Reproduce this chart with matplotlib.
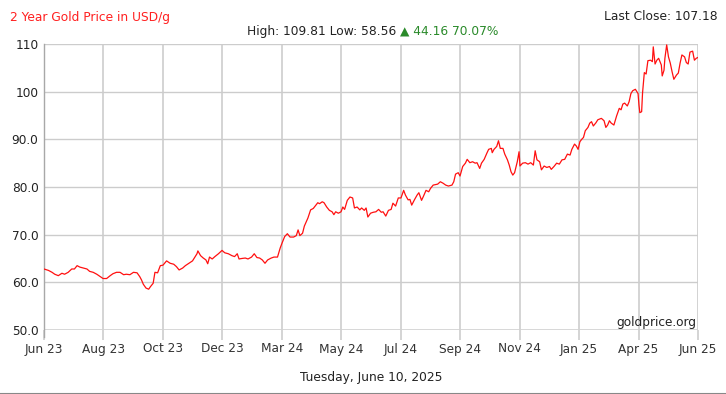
import numpy as np
import matplotlib
matplotlib.use("Agg")
import matplotlib.pyplot as plt
from matplotlib.lines import Line2D

# days since Jun 10 2023 and price in USD/g
days_a = [0, 5, 9, 12, 16, 20, 23, 27, 31, 34, 37, 40, 44, 48, 51, 55, 59, 63, 66, 70,
          74, 77, 81, 85, 89, 92, 96, 100, 104, 107, 109, 111, 114, 117, 119, 122, 124,
          127, 130, 133, 137, 141, 145, 148, 151]
price_a = [62.8, 62.5, 62.1, 61.7, 61.4, 61.9, 61.7, 62.1, 62.8, 62.8, 63.5, 63.2, 63.0,
           62.8, 62.3, 62.1, 61.7, 61.2, 60.8, 60.8, 61.4, 61.8, 62.1, 62.1, 61.6, 61.7,
           61.6, 62.1, 62.0, 61.2, 60.5, 59.6, 58.8, 58.56, 59.1, 59.8, 62.1, 62.0, 63.5,
           63.6, 64.5, 64.0, 63.8, 63.3, 62.6]

days_b = [155, 158, 162, 166, 169, 171, 172, 175, 178, 181, 183, 185, 188, 191, 195, 199,
          202, 206, 210, 213, 216, 218, 221, 225, 228, 232, 235, 238, 241, 244, 247, 250,
          254, 257, 261, 264, 266, 269, 272, 275, 279, 282, 284, 286, 289, 291]
price_b = [63.0, 63.5, 64.0, 64.5, 65.4, 66.0, 66.6, 65.6, 65.1, 64.7, 63.9, 65.3, 64.9,
           65.4, 66.0, 66.7, 66.2, 66.0, 65.6, 65.4, 66.0, 64.9, 65.0, 65.1, 64.9, 65.3,
           66.0, 65.2, 65.1, 64.7, 64.0, 64.7, 65.1, 65.3, 65.3, 67.2, 68.2, 69.6, 70.2,
           69.5, 69.5, 69.8, 71.0, 69.8, 70.3, 71.8]

days_c = [295, 298, 301, 304, 306, 308, 311, 313, 316, 319, 322, 324, 326, 329, 332, 334,
          336, 339, 342, 345, 347, 350, 353, 355, 358, 360, 362, 365, 368, 371, 374, 377,
          379, 382, 385, 388, 390, 393, 396, 399, 402, 404, 407, 409, 411, 414, 417, 419,
          422, 424, 427, 430, 432, 435]
price_c = [73.5, 75.2, 75.5, 76.2, 76.7, 76.5, 76.9, 76.7, 75.8, 75.1, 74.8, 74.2, 74.8,
           74.5, 74.8, 75.8, 75.3, 77.2, 77.9, 77.7, 75.6, 75.8, 75.2, 75.6, 75.1, 75.6,
           73.7, 74.5, 74.7, 74.8, 75.3, 74.7, 74.8, 73.9, 75.1, 75.3, 76.6, 76.0, 77.7,
           77.7, 79.3, 78.3, 77.3, 77.4, 76.2, 77.3, 78.3, 78.8, 77.2, 78.0, 79.3, 79.0,
           79.7, 80.4]

days_d = [440, 443, 446, 449, 452, 456, 458, 460, 463, 465, 468, 471, 473, 476, 479, 482,
          484, 487, 489, 492, 495, 497, 500, 501, 503, 506, 508, 510, 513, 515, 518, 520,
          522, 524, 526, 529, 531, 532, 535, 538, 541, 544, 547, 549, 551, 554, 556, 559,
          562, 565, 567, 570, 573, 576, 579, 582]
price_d = [80.6, 81.1, 80.8, 80.4, 80.2, 80.4, 81.1, 82.7, 83.0, 82.3, 84.3, 85.0, 85.8,
           85.1, 85.3, 85.0, 85.1, 83.9, 85.0, 85.8, 87.1, 87.9, 88.1, 87.2, 87.9, 88.5,
           89.7, 88.1, 88.1, 86.9, 85.7, 84.6, 83.2, 82.5, 83.0, 85.3, 87.4, 84.4, 85.0,
           85.1, 84.8, 85.1, 84.6, 87.6, 85.7, 85.3, 83.6, 84.4, 84.1, 84.3, 83.7, 84.3,
           85.0, 84.8, 85.7, 85.8]

days_e = [585, 588, 590, 593, 595, 597, 599, 601, 603, 605, 608, 610, 612, 614, 617, 619,
          623, 626, 628, 630, 632, 634, 637, 640, 643, 645, 647, 649, 652, 654, 656, 658,
          661, 664, 665, 666, 668, 669, 671, 673, 675, 678, 680, 681, 683, 685, 687, 690,
          691, 693, 694, 696, 698, 700, 702, 704, 707, 709, 711, 713, 716, 718, 720, 722,
          725, 727, 729, 731]
price_e = [86.9, 86.7, 87.9, 89.0, 88.6, 87.9, 89.5, 90.0, 90.4, 91.8, 92.5, 93.4, 93.7,
           92.8, 93.5, 94.1, 94.4, 93.9, 92.5, 93.0, 93.9, 93.4, 93.0, 94.9, 96.5, 96.2,
           97.4, 97.6, 97.0, 97.9, 99.6, 100.2, 100.5, 99.6, 97.2, 95.6, 95.8, 99.7, 104.0,
           103.7, 106.5, 106.6, 106.3, 109.4, 105.8, 106.6, 107.0, 105.6, 103.3, 104.5,
           107.0, 109.81, 107.3, 106.0, 104.2, 102.6, 103.5, 103.9, 106.0, 107.7, 107.3,
           106.1, 105.8, 108.3, 108.5, 106.6, 107.0, 107.18]

x_labels = ["Jun 23", "Aug 23", "Oct 23", "Dec 23", "Mar 24", "May 24", "Jul 24",
            "Sep 24", "Nov 24", "Jan 25", "Apr 25", "Jun 25"]
y_ticks = [50, 60, 70, 80, 90, 100, 110]
y_labels = ["50.0", "60.0", "70.0", "80.0", "90.0", "100", "110"]

days = days_a + days_b + days_c + days_d + days_e
price = price_a + price_b + price_c + price_d + price_e
total_days = 731

plt.rcParams['font.family'] = ['DejaVu Sans']
fig = plt.figure(figsize=(7.26, 3.94), dpi=100)
ax = fig.add_axes([44 / 726, 1 - 330 / 394, 654 / 726, 286 / 394])

ax.plot(days, price, color='#ff1010', linewidth=0.9, zorder=3)

ax.set_xlim(0, total_days)
ax.set_ylim(50, 110)
ax.set_xticks(np.linspace(0, total_days, len(x_labels)))
ax.set_xticklabels(x_labels)
ax.set_yticks(y_ticks)
ax.set_yticklabels(y_labels)

ax.grid(True, axis='y', color='#cccccc', linewidth=1.0)
ax.grid(True, axis='x', color='#d4d4d4', linewidth=1.4)
for s in ['top', 'right', 'bottom']:
    ax.spines[s].set_visible(False)
ax.spines['left'].set_color('#a8a8a8')
ax.spines['left'].set_linewidth(1.0)
ax.spines['left'].set_bounds(48.5, 110)
ax.axhline(50, color='#d8d8d8', linewidth=2.0, zorder=1)
ax.axvline(total_days, color='#c8c8c8', linewidth=1.4, zorder=1)

ax.tick_params(axis='x', length=7, width=1.4, color='#d4d4d4', pad=2,
               labelsize=8.7, labelcolor='#333333')
ax.tick_params(axis='y', length=0, pad=4, labelsize=8.7, labelcolor='#222222')

ax.text(0.998, 0.005, "goldprice.org", transform=ax.transAxes, ha='right', va='bottom',
        fontsize=8.7, color='#222222')

fig.text(10 / 726, 1 - 17 / 394, "2 Year Gold Price in USD/g", color='#ff2020',
         fontsize=8.8, ha='left', va='center')
fig.text(718 / 726, 1 - 17 / 394, "Last Close: 107.18", color='#222222',
         fontsize=8.8, ha='right', va='center')
t1 = fig.text(247 / 726, 1 - 31 / 394, "High: 109.81 Low: 58.56 ", color='#222222',
              fontsize=8.8, ha='left', va='center')
fig.canvas.draw()
bb = t1.get_window_extent()
fig.text(bb.x1 / fig.bbox.width, 1 - 31 / 394, "\u25b2 44.16 70.07%", color='#2a8a2a',
         fontsize=8.8, ha='left', va='center')
fig.text(371 / 726, 1 - 377 / 394, "Tuesday, June 10, 2025", color='#222222',
         fontsize=8.8, ha='center', va='center')
fig.add_artist(Line2D([0, 1], [0.5 / 394, 0.5 / 394], transform=fig.transFigure,
                      color='#888888', linewidth=1.5))

fig.savefig("out.png", dpi=100)
